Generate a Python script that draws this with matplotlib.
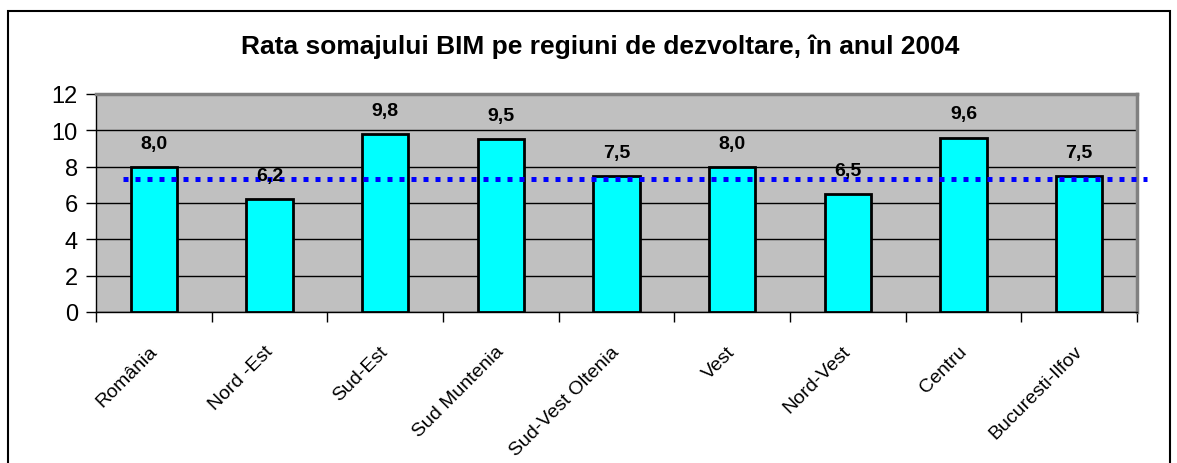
import matplotlib
matplotlib.use("Agg")
import matplotlib.pyplot as plt
from matplotlib.patches import Rectangle

regions = ["România", "Nord -Est", "Sud-Est", "Sud Muntenia", "Sud-Vest Oltenia",
           "Vest", "Nord-Vest", "Centru", "Bucuresti-Ilfov"]
rates = [8.0, 6.2, 9.8, 9.5, 7.5, 8.0, 6.5, 9.6, 7.5]
reference_level = 7.3
title = "Rata somajului BIM pe regiuni de dezvoltare, în anul 2004"

font = "Liberation Sans"

W, H = 1177, 464
fig = plt.figure(figsize=(W / 100, H / 100), dpi=100)
fig.patch.set_facecolor("white")

# outer chart frame
fig.patches.append(Rectangle((8 / W, -0.02), (1170 - 8) / W, 1.02 - 12 / H,
                             transform=fig.transFigure, fill=False,
                             edgecolor="black", linewidth=1.5))

ax = fig.add_axes([96 / W, 1 - 313 / H, (1137 - 96) / W, (313 - 95) / H])
ax.set_facecolor("#C0C0C0")

x = list(range(len(regions)))
ax.bar(x, rates, width=0.4, color="#00FFFF", edgecolor="black", linewidth=2, zorder=3)

ax.set_xlim(-0.5, len(regions) - 0.5)
ax.set_ylim(0, 12)
ax.set_yticks(range(0, 13, 2))
ax.yaxis.grid(True, color="black", linewidth=1, zorder=0)
ax.set_axisbelow(True)

for s in ["top", "right"]:
    ax.spines[s].set_color("#808080")
    ax.spines[s].set_linewidth(2.5)
for s in ["left", "bottom"]:
    ax.spines[s].set_color("black")
    ax.spines[s].set_linewidth(1)

ax.tick_params(axis="y", direction="out", length=7, width=1, labelsize=17, pad=6)
for lab in ax.get_yticklabels():
    lab.set_fontfamily(font)

# category ticks sit on the boundaries between bars
ax.set_xticks([i - 0.5 for i in range(len(regions) + 1)])
ax.set_xticklabels([])
ax.tick_params(axis="x", direction="out", length=7, width=1)

# rotated category names below each bar
for xi, name in zip(x, regions):
    ax.annotate(name, xy=(xi, 0), xycoords=("data", "axes fraction"),
                xytext=(-4, -22), textcoords="offset points",
                rotation=45, rotation_mode="anchor", ha="right", va="top",
                fontsize=14, fontfamily=font, annotation_clip=False)

# value labels above bars
for xi, v in zip(x, rates):
    ax.text(xi, v + 1.3, f"{v:.1f}".replace(".", ","), ha="center", va="center",
            fontsize=14, fontweight="bold", fontfamily=font, zorder=5)

ax.plot([-0.27, 8.59], [reference_level, reference_level], color="#0000FF",
        linewidth=3.6, linestyle=(0, (1, 1.4)), dash_capstyle="butt",
        clip_on=False, zorder=4)

fig.text(600 / W, 1 - 47 / H, title, ha="center", va="center", fontsize=19,
         fontweight="bold", fontfamily=font)

fig.savefig("out.png", dpi=100)
